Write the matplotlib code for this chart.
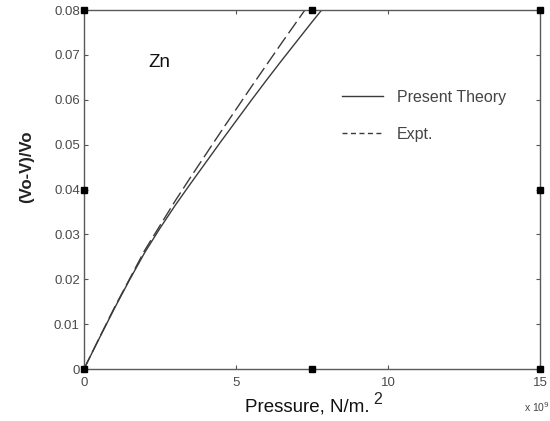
import matplotlib
matplotlib.use('Agg')
import matplotlib.pyplot as plt

plt.rcParams['font.family'] = ['Liberation Sans', 'DejaVu Sans']

# compression of Zn vs pressure (x in units of 1e9 N/m^2)
theory_p = [0, 0.5, 1, 1.5, 2, 2.5, 3, 3.5, 4, 4.5, 5, 5.5, 6, 6.5, 7, 7.5, 8]
theory_v = [0, 0.0068, 0.0135, 0.0199, 0.0260, 0.0314, 0.0365, 0.0413, 0.0460,
            0.0507, 0.0553, 0.0599, 0.0644, 0.0688, 0.0731, 0.0774, 0.0816]

expt_p = [0, 0.5, 1, 1.5, 2, 2.5, 3, 3.5, 4, 4.5, 5, 5.5, 6, 6.5, 7, 7.5]
expt_v = [0, 0.0069, 0.0137, 0.0201, 0.0265, 0.0320, 0.0375, 0.0427, 0.0478,
          0.0529, 0.0579, 0.0629, 0.0678, 0.0727, 0.0775, 0.0823]

# square markers along the frame
marker_p = [0, 7.5, 15, 0, 15, 0, 7.5, 15]
marker_v = [0, 0, 0, 0.04, 0.04, 0.08, 0.08, 0.08]

x_ticks = [0, 5, 10, 15]
y_ticks = [0, 0.01, 0.02, 0.03, 0.04, 0.05, 0.06, 0.07, 0.08]
y_labels = ['0', '0.01', '0.02', '0.03', '0.04', '0.05', '0.06', '0.07', '0.08']

fig = plt.figure(figsize=(5.5, 4.21), dpi=100)
ax = fig.add_axes([0.1527, 0.1235, 0.83, 0.8527])

line_col = '#3a3a3a'
ax.plot(theory_p, theory_v, '-', color=line_col, lw=1.0, label='Present Theory')
ax.plot(expt_p, expt_v, '--', color=line_col, lw=1.0, dashes=(10, 3.5), label='Expt.')
ax.plot(marker_p, marker_v, 's', color='black', ms=4.5, ls='none', clip_on=False, zorder=5)

ax.set_xlim(0, 15)
ax.set_ylim(0, 0.08)
ax.set_xticks(x_ticks)
ax.set_yticks(y_ticks)
ax.set_yticklabels(y_labels)
ax.tick_params(direction='in', top=True, right=True, length=3, width=0.8,
               colors='#555555', labelsize=9.5, labelcolor='#4a4a4a')
ax.tick_params(axis='x', pad=6)
ax.tick_params(axis='y', pad=3)
for s in ax.spines.values():
    s.set_color('#5a5a5a')
    s.set_linewidth(1.0)

ax.set_ylabel('(Vo-V)/Vo', fontsize=12, fontweight='bold', color='#222222')
ax.yaxis.set_label_coords(-0.109, 0.563)
ax.set_xlabel('Pressure, N/m.', fontsize=13.5, color='#111111')
ax.xaxis.set_label_coords(0.49, -0.081)
fig.text(0.678, 0.069, '2', fontsize=11.5, color='#222222', va='top')
fig.text(0.953, 0.022, r'x 10$^{9}$', fontsize=7.5, color='#444444')

ax.text(2.1, 0.0684, 'Zn', fontsize=13.5, color='#111111', va='center')

leg = ax.legend(loc='upper left', bbox_to_anchor=(0.5645, 0.778), frameon=False,
                borderpad=0, borderaxespad=0, fontsize=11.5, handlelength=2.6,
                handletextpad=0.84, labelspacing=1.4, labelcolor='#444444')
leg.get_lines()[1].set_dashes((3.6, 2.5))

fig.savefig('out.png', dpi=100)
